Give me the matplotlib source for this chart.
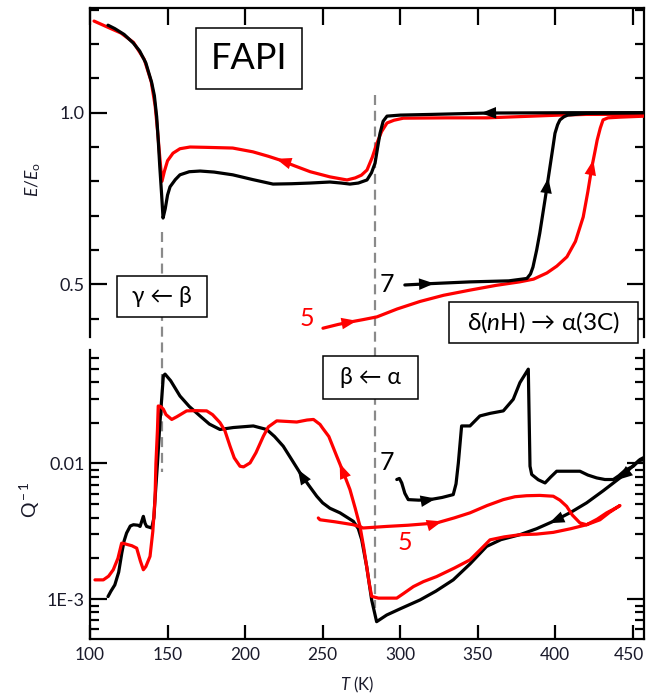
import numpy as np
import matplotlib
matplotlib.use("Agg")
import matplotlib.pyplot as plt
from matplotlib.patches import Rectangle
from matplotlib.lines import Line2D
from matplotlib import transforms
from matplotlib.ticker import MultipleLocator, FixedLocator, FixedFormatter, LogLocator, NullFormatter

plt.rcParams['font.family'] = ['Lato', 'DejaVu Sans']
plt.rcParams['mathtext.fontset'] = 'custom'
plt.rcParams['mathtext.rm'] = 'Lato'
plt.rcParams['mathtext.it'] = 'Lato:italic'

# ---------------- data: top panel E/Eo ----------------
# black cooling (listed with increasing T; measured from high T to low T)
T_top_k_cool = [111.6, 116, 122, 127.9, 132, 136, 139.7, 141.5, 143, 144, 145, 146.2, 147.1, 148.5, 150,
                151.6, 155, 158, 164, 171, 180, 192, 205, 218, 230, 241.8, 254.7, 262, 267.6, 273,
                278.6, 281.5, 283.8, 285.5, 287, 289, 291.5, 300, 320, 356, 411, 458]
E_top_k_cool = [1.255, 1.245, 1.228, 1.203, 1.18, 1.145, 1.089, 1.05, 0.988, 0.92, 0.842, 0.76, 0.693, 0.72, 0.76,
                0.784, 0.805, 0.819, 0.828, 0.830, 0.827, 0.819, 0.805, 0.792, 0.793, 0.795, 0.798, 0.795, 0.792, 0.795,
                0.804, 0.825, 0.853, 0.90, 0.940, 0.975, 0.990, 0.993, 0.995, 0.999, 1.0, 1.0]
# red cooling
T_top_r_cool = [102.6, 110, 120, 128, 135, 139.5, 142, 143.5, 145, 146.4, 148, 150, 153.5, 158, 164.5, 175,
                192, 205, 215, 222.5, 232, 242, 254.7, 262, 265.7, 271, 275, 278.6, 282, 285, 288, 291.5,
                296, 302, 330, 356, 403, 420, 458]
E_top_r_cool = [1.267, 1.252, 1.232, 1.205, 1.155, 1.09, 1.02, 0.95, 0.87, 0.80, 0.83, 0.86, 0.882, 0.895, 0.90, 0.899,
                0.897, 0.886, 0.873, 0.862, 0.845, 0.828, 0.813, 0.807, 0.804, 0.81, 0.818, 0.833, 0.87, 0.911, 0.945, 0.97,
                0.978, 0.984, 0.985, 0.985, 0.993, 0.995, 0.995]
# black heating (run 7)
T_top_k_heat = [303, 320, 345, 370, 381.7, 384, 385.6, 388, 390, 393.5, 396.6, 398.5, 399.8, 401.5, 403, 405.5,
                408, 420, 458]
E_top_k_heat = [0.498, 0.502, 0.507, 0.510, 0.517, 0.53, 0.55, 0.60, 0.649, 0.75, 0.843, 0.90, 0.94, 0.965, 0.979, 0.988,
                0.993, 0.998, 1.0]
# red heating (run 5)
T_top_r_heat = [250.2, 260, 267.6, 276, 285, 298, 312.8, 328, 345, 362, 377, 386, 394.6, 401, 407.5, 413, 418,
                421, 423.6, 425.5, 427, 429, 430.8, 434, 441.7, 458]
E_top_r_heat = [0.372, 0.383, 0.39, 0.397, 0.405, 0.428, 0.45, 0.468, 0.483, 0.497, 0.507, 0.515, 0.533, 0.553, 0.58,
                0.625, 0.696, 0.77, 0.842, 0.885, 0.92, 0.955, 0.979, 0.985, 0.987, 0.99]

# ---------------- data: bottom panel Q^-1 ----------------
T_bot_k_cool = [111.6, 113.5, 116, 118.5, 120.5, 122, 123.6, 126, 128, 131, 132.3, 133.5, 134.4, 135.5, 136.5,
                139.8, 141.2, 141.9, 143.5, 145.1, 147.3, 148.4, 152, 158, 164, 170.9, 177, 183.8, 192.4,
                205.3, 213.9, 219, 224.6, 230, 235.4, 241, 246.2, 250, 254.7, 261.2, 269.8, 273, 275.2,
                278.4, 281.6, 284.8, 291.3, 300, 312.8, 323, 334.2, 345, 355.7, 365, 377.2, 388, 398.7,
                410, 420.2, 431, 441.7, 448, 454.6, 458]
Q_bot_k_cool = [1.047e-3, 1.148e-3, 1.276e-3, 1.585e-3, 2.188e-3, 2.692e-3, 3.076e-3, 3.467e-3, 3.54e-3, 3.51e-3,
                3.44e-3, 3.80e-3, 4.08e-3, 3.63e-3, 3.44e-3, 3.35e-3, 3.98e-3, 5.42e-3, 1.0e-2, 2.0e-2, 4.42e-2,
                4.55e-2, 4.07e-2, 3.14e-2, 2.63e-2, 2.24e-2, 1.95e-2, 1.78e-2, 1.84e-2, 1.89e-2, 1.78e-2, 1.58e-2,
                1.34e-2, 1.07e-2, 8.53e-3, 6.92e-3, 5.74e-3, 5.13e-3, 4.68e-3, 4.33e-3, 3.75e-3, 3.31e-3, 2.74e-3,
                1.74e-3, 9.89e-4, 6.84e-4, 7.66e-4, 8.51e-4, 9.89e-4, 1.148e-3, 1.39e-3, 1.82e-3, 2.45e-3, 2.75e-3,
                2.99e-3, 3.31e-3, 3.75e-3, 4.37e-3, 5.13e-3, 6.31e-3, 7.83e-3, 9.12e-3, 1.07e-2, 1.12e-2]
T_bot_k_heat = [297.8, 299.5, 301, 303, 305.2, 312, 319.2, 327, 334.2, 336, 337.5, 339.6, 345, 351.4, 358, 366.5,
                372.9, 377.2, 382.6, 383.7, 384.8, 389, 393.4, 397, 400.9, 408, 415.9, 421, 426.7, 432, 437.4,
                441, 445, 450.3, 454, 458]
Q_bot_k_heat = [7.62e-3, 7.76e-3, 7.19e-3, 6.03e-3, 5.42e-3, 5.37e-3, 5.42e-3, 5.62e-3, 5.90e-3, 7.08e-3, 1.01e-2,
                1.89e-2, 1.89e-2, 2.24e-2, 2.34e-2, 2.44e-2, 2.97e-2, 3.94e-2, 4.95e-2, 9.55e-3, 8.30e-3, 7.59e-3,
                7.19e-3, 7.94e-3, 8.77e-3, 8.77e-3, 8.77e-3, 8.22e-3, 7.83e-3, 7.62e-3, 7.62e-3, 8.13e-3, 8.91e-3,
                9.55e-3, 1.05e-2, 1.07e-2]
# red run 5: heating branch then cooling branch (in measurement order)
T_bot_r_heat = [247.2, 248.3, 258, 269.8, 276.2, 291.3, 305, 323.5, 335, 345, 356, 366.5, 374, 381.5, 390, 398.7,
                403, 407.3, 411, 415.9, 420.2, 428.8, 435, 441.7]
Q_bot_r_heat = [3.97e-3, 3.85e-3, 3.72e-3, 3.54e-3, 3.35e-3, 3.44e-3, 3.51e-3, 3.65e-3, 3.98e-3, 4.33e-3, 4.90e-3,
                5.42e-3, 5.69e-3, 5.79e-3, 5.82e-3, 5.74e-3, 5.37e-3, 4.84e-3, 4.17e-3, 3.65e-3, 3.54e-3, 3.85e-3,
                4.37e-3, 4.90e-3]
T_bot_r_cool = [441.7, 437, 433.1, 427, 420.2, 410, 398.7, 388, 377.2, 367, 357.9, 352, 345, 335, 323.5, 315,
                308.5, 302, 297.8, 291.3, 286, 281.6, 280, 278.4, 276.5, 274.1, 271, 267.6, 263.5, 259.1, 254,
                250, 248.3, 244.1, 240, 233.3, 227, 220.4, 215, 211.8, 207, 203.2, 199, 196.7, 193, 190.3, 187,
                183.8, 179, 175.2, 168, 162.3, 156, 152.7, 149, 147.3, 145.5, 144, 143.5, 142.5, 141.9, 140.5,
                138.7, 136, 134.4, 132.5, 130.1, 127, 124.7, 122, 120.4, 118, 115, 112, 108.6, 103.2]
Q_bot_r_cool = [4.90e-3, 4.57e-3, 4.33e-3, 3.89e-3, 3.54e-3, 3.31e-3, 3.11e-3, 3.02e-3, 2.99e-3, 2.88e-3, 2.74e-3,
                2.34e-3, 1.95e-3, 1.70e-3, 1.47e-3, 1.35e-3, 1.24e-3, 1.10e-3, 1.02e-3, 1.02e-3, 1.02e-3, 1.05e-3,
                1.32e-3, 1.74e-3, 2.40e-3, 3.44e-3, 4.68e-3, 6.43e-3, 8.51e-3, 1.13e-2, 1.58e-2, 1.82e-2, 1.94e-2,
                2.11e-2, 2.09e-2, 2.02e-2, 2.04e-2, 2.06e-2, 1.86e-2, 1.59e-2, 1.20e-2, 1.01e-2, 9.44e-3, 9.55e-3,
                1.10e-2, 1.34e-2, 1.74e-2, 2.0e-2, 2.29e-2, 2.44e-2, 2.45e-2, 2.44e-2, 2.21e-2, 2.11e-2, 2.29e-2,
                2.51e-2, 2.63e-2, 2.65e-2, 1.78e-2, 1.0e-2, 5.42e-3, 3.16e-3, 2.07e-3, 1.74e-3, 1.65e-3, 1.91e-3,
                2.38e-3, 2.48e-3, 2.52e-3, 2.57e-3, 2.59e-3, 2.0e-3, 1.65e-3, 1.48e-3, 1.39e-3, 1.39e-3]

transition_T = [146.5, 284.0]
x_ticks = [100, 150, 200, 250, 300, 350, 400, 450]

# ---------------- figure ----------------
W, H = 646, 696
fig = plt.figure(figsize=(W / 100, H / 100), dpi=100)

def fx(px):
    return px / W

def fy(py):
    return 1 - py / H

axL, axR = 90, 644
ax1 = fig.add_axes([fx(axL), fy(337), fx(axR - axL), (337 - 8.3) / H])
ax2 = fig.add_axes([fx(axL), fy(639), fx(axR - axL), (639 - 350) / H])
for ax in (ax1, ax2):
    ax.patch.set_visible(False)
    ax.set_xlim(100, 457.2)
    for s in ax.spines.values():
        s.set_linewidth(1.6)

RED = '#ff0000'
LW = 2.3
TXT = '#1a1a2a'

def rev(a):
    return list(a)[::-1]

# top curves (traversal order)
top_series = [
    (rev(T_top_k_cool), rev(E_top_k_cool), 'black'),
    (rev(T_top_r_cool), rev(E_top_r_cool), RED),
    (T_top_k_heat, E_top_k_heat, 'black'),
    (T_top_r_heat, E_top_r_heat, RED),
]
for T, V, c in [top_series[1], top_series[0], top_series[3], top_series[2]]:
    ax1.plot(T, V, color=c, lw=LW, zorder=3, solid_capstyle='round')

bot_series = [
    (rev(T_bot_k_cool), rev(Q_bot_k_cool), 'black'),
    (T_bot_k_heat, Q_bot_k_heat, 'black'),
    (list(T_bot_r_heat) + list(T_bot_r_cool[1:]), list(Q_bot_r_heat) + list(Q_bot_r_cool[1:]), RED),
]
for T, V, c in bot_series:
    ax2.plot(T, V, color=c, lw=LW, zorder=3, solid_capstyle='round')


def add_arrow(ax, T, V, at, color, logy=False, nth=0, size=11):
    T = np.asarray(T, float)
    V = np.asarray(V, float)
    found = 0
    for j in range(len(T) - 1):
        a, b = T[j], T[j + 1]
        if min(a, b) <= at <= max(a, b) and a != b:
            if found == nth:
                f = (at - a) / (b - a)
                if logy:
                    v = 10 ** (np.log10(V[j]) + f * (np.log10(V[j + 1]) - np.log10(V[j])))
                else:
                    v = V[j] + f * (V[j + 1] - V[j])
                ax.annotate('', xy=(at, v), xytext=(T[j], V[j]),
                            arrowprops=dict(arrowstyle='-|>,head_length=1.0,head_width=0.38',
                                            color=color, lw=0, shrinkA=0, shrinkB=0,
                                            mutation_scale=size), zorder=4)
                return
            found += 1

# top arrows
add_arrow(ax1, *top_series[0][:2], 352, 'black')
add_arrow(ax1, *top_series[1][:2], 220, RED)
add_arrow(ax1, *top_series[2][:2], 322, 'black')
add_arrow(ax1, *top_series[2][:2], 395.5, 'black')
add_arrow(ax1, *top_series[3][:2], 272, RED)
add_arrow(ax1, *top_series[3][:2], 424.5, RED)
# bottom arrows
add_arrow(ax2, *bot_series[0][:2], 396, 'black', logy=True)
add_arrow(ax2, *bot_series[0][:2], 234, 'black', logy=True)
add_arrow(ax2, *bot_series[1][:2], 323, 'black', logy=True)
add_arrow(ax2, *bot_series[0][:2], 440, 'black', logy=True)
add_arrow(ax2, *bot_series[2][:2], 327, RED, logy=True)
add_arrow(ax2, *bot_series[2][:2], 261, RED, logy=True, nth=1)

# ---- top axis formatting ----
ax1.set_ylim(0.3464, 1.3042)
ax1.spines['bottom'].set_visible(False)
ax1.yaxis.set_major_locator(FixedLocator([0.5, 1.0]))
ax1.yaxis.set_major_formatter(FixedFormatter(['0.5', '1.0']))
ax1.yaxis.set_minor_locator(MultipleLocator(0.1))
ax1.xaxis.set_major_locator(FixedLocator(x_ticks))
ax1.tick_params(axis='x', which='both', bottom=False, top=True, labelbottom=False, labeltop=False,
                direction='in', length=12.5, width=1.6)
ax1.tick_params(axis='y', which='major', left=True, right=True, direction='in', length=12.5, width=1.6,
                labelsize=13, pad=4, labelcolor=TXT)
ax1.tick_params(axis='y', which='minor', left=True, right=True, direction='in', length=6.5, width=1.6)

# ---- bottom axis formatting ----
ax2.set_yscale('log')
ax2.set_ylim(5.1e-4, 0.0685)
ax2.spines['top'].set_visible(False)
ax2.yaxis.set_major_locator(FixedLocator([1e-3, 1e-2]))
ax2.yaxis.set_major_formatter(FixedFormatter(['1E-3', '0.01']))
ax2.yaxis.set_minor_locator(LogLocator(base=10, subs=np.arange(2, 10)))
ax2.yaxis.set_minor_formatter(NullFormatter())
ax2.xaxis.set_major_locator(FixedLocator(x_ticks))
ax2.xaxis.set_major_formatter(FixedFormatter([str(v) for v in x_ticks]))
ax2.tick_params(axis='x', which='major', bottom=True, top=False, direction='in', length=10, width=1.6,
                labelsize=12.5, pad=6, labelcolor=TXT)
ax2.tick_params(axis='y', which='major', left=True, right=True, direction='in', length=12, width=1.6,
                labelsize=13, pad=4, labelcolor=TXT)
ax2.tick_params(axis='y', which='minor', left=True, right=True, direction='in', length=6.5, width=1.6)

# keep the last x tick label inside the canvas
fig.canvas.draw()
last_lbl = ax2.get_xticklabels()[-1]
last_lbl.set_transform(last_lbl.get_transform() +
                       transforms.ScaledTranslation(-4 / 100, 0, fig.dpi_scale_trans))

# ---- dashed transition lines spanning both panels ----
blend = transforms.blended_transform_factory(ax1.transData, fig.transFigure)
dash_spans = [(232, 472), (95, 608)]
for Tt, (p0, p1) in zip(transition_T, dash_spans):
    ln = Line2D([Tt, Tt], [fy(p0), fy(p1)], transform=blend, color='#8a8a8a', lw=1.6,
                ls=(0, (4.5, 2.6)), zorder=1, clip_on=False)
    ax1.add_line(ln)

# ---- axis labels ----
fig.text(fx(33), fy(180), r'$E$/$E_{\rm o}$', rotation=90, ha='center', va='center', fontsize=12.5,
         color=TXT)
fig.text(fx(30), fy(500), r'Q$^{\rm -1}$', rotation=90, ha='center', va='center', fontsize=14,
         color=TXT)
fig.text(fx(357), fy(685), r'$T$ (K)', ha='center', va='center', fontsize=12, color=TXT)

# ---- boxed annotations ----
def box_text(x0, y0, x1, y1, s, size):
    fig.add_artist(Rectangle((fx(x0), fy(y1)), fx(x1 - x0), (y1 - y0) / H, transform=fig.transFigure,
                             facecolor='white', edgecolor='black', lw=1.1, zorder=5))
    fig.text(fx((x0 + x1) / 2), fy((y0 + y1) / 2), s, ha='center', va='center', fontsize=size,
             color='black', zorder=6)

box_text(196, 28, 302, 89, 'FAPI', 26)
box_text(117, 276, 207, 317, 'γ ← β', 16.5)
box_text(449, 302, 638, 343, r'δ($\it{n}$H) → α(3C)', 17.5)
box_text(323, 356, 418, 399, 'β ← α', 16.5)

# ---- run labels ----
ax1.text(291.5, 0.498, '7', color='black', fontsize=18, ha='center', va='center')
ax1.text(240, 0.40, '5', color=RED, fontsize=18, ha='center', va='center')
ax2.text(291.5, 0.0102, '7', color='black', fontsize=18, ha='center', va='center')
ax2.text(303, 2.6e-3, '5', color=RED, fontsize=18, ha='center', va='center')

fig.savefig('out.png', dpi=100)
